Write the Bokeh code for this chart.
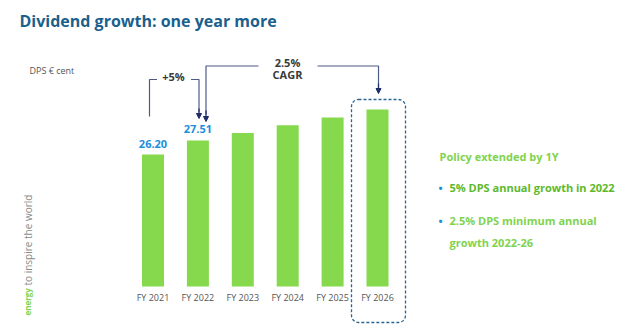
import math
from bokeh.plotting import figure
from bokeh.models import Range1d, Label, Arrow, NormalHead, BoxAnnotation, ColumnDataSource
from bokeh.core.properties import value
from bokeh.embed import file_html
from bokeh.resources import INLINE

# ---- data ----
categories = ["FY 2021", "FY 2022", "FY 2023", "FY 2024", "FY 2025", "FY 2026"]
dps = [26.20, 27.51, 28.20, 28.90, 29.62, 30.37]
value_labels = ["26.20", "27.51", "", "", "", ""]
axis_base = 13.98

# ---- layout helpers (canvas pixel -> data) ----
W, H = 640, 325
SLOT_PX = 44.9
FIRST_PX = 152.5
CENT_PX = 10.8
BASE_PY = 286
x_start = -FIRST_PX / SLOT_PX
x_end = x_start + W / SLOT_PX
y_start = axis_base - (H - BASE_PY) / CENT_PX
y_end = y_start + H / CENT_PX


def X(px):
    return x_start + px / SLOT_PX


def Y(py):
    return y_start + (H - py) / CENT_PX


FONT = "Open Sans"

p = figure(width=W, height=H, x_range=Range1d(x_start, x_end), y_range=Range1d(y_start, y_end),
           output_backend="svg", toolbar_location=None, min_border=0,
           x_axis_type=None, y_axis_type=None)
p.grid.visible = False
p.outline_line_color = None
p.background_fill_color = "white"
p.border_fill_color = "white"

idx = list(range(len(categories)))
src = ColumnDataSource(dict(x=idx, top=dps, cat=categories, lab=value_labels,
                            laby=[v + 11 / CENT_PX for v in dps]))

p.vbar(x="x", top="top", bottom=axis_base, width=22 / SLOT_PX, source=src,
       fill_color="#86d84c", line_color=None)

p.text(x="x", y="laby", text="lab", source=src, text_align="center", text_baseline="middle",
       text_font=value(FONT), text_font_size="11px", text_font_style="bold", text_color="#1c8fdb")

p.text(x="x", y=Y(296.5), text="cat", source=src, text_align="center", text_baseline="middle",
       text_font=value(FONT), text_font_size="9px", text_color="#555555")

# ---- brackets ----
LINE = "#4d5a86"
HEAD = "#1f2d6b"
p.multi_line(xs=[[X(149), X(149), X(156.5)], [X(190.5), X(198.5), X(198.5)],
                 [X(258), X(205.5), X(205.5)], [X(317), X(378), X(378)]],
             ys=[[Y(116), Y(79), Y(79)], [Y(79), Y(79), Y(112)],
                 [Y(65.5), Y(65.5), Y(114)], [Y(65.5), Y(65.5), Y(87)]],
             line_color=LINE, line_width=1.2)
for ax, ay0, ay1 in [(198.5, 108, 118), (205.5, 110, 121), (378, 83, 93)]:
    p.add_layout(Arrow(end=NormalHead(size=5, fill_color=HEAD, line_color=HEAD),
                       x_start=X(ax), y_start=Y(ay0), x_end=X(ax), y_end=Y(ay1),
                       line_color=HEAD, line_width=1.2))

box = BoxAnnotation(left=X(351), right=X(405), top=Y(99), bottom=Y(322),
                    fill_alpha=0, line_color="#2a6592", line_alpha=1.0,
                    line_dash="3 2", line_width=1.3, border_radius=7)
p.add_layout(box)


def lab(px, py, text, size, color, bold=False, align="left", angle=0.0):
    p.add_layout(Label(x=X(px), y=Y(py), text=text, text_font=FONT, text_font_size=size,
                       text_color=color, text_font_style="bold" if bold else "normal",
                       text_align=align, text_baseline="middle", angle=angle))


lab(19, 20, "Dividend growth: one year more", "16px", "#1b5f8c", bold=True)
lab(29, 70, "DPS € cent", "9px", "#555555")
lab(173, 76, "+5%", "11px", "#3a3a3a", bold=True, align="center")
lab(287, 61.5, "2.5%", "11px", "#3a3a3a", bold=True, align="center")
lab(287, 73.5, "CAGR", "11px", "#3a3a3a", bold=True, align="center")

lab(439, 155.5, "Policy extended by 1Y", "11px", "#7fd34f", bold=True)
lab(438, 186.5, "•", "11px", "#1c8fdb", bold=True)
lab(449, 186.5, "5% DPS annual growth in 2022", "11px", "#5cb92c", bold=True)
lab(438, 219.5, "•", "11px", "#1c8fdb", bold=True)
lab(449, 219.5, "2.5% DPS minimum annual", "11px", "#7fd34f", bold=True)
lab(449, 241.5, "growth 2022-26", "11px", "#7fd34f", bold=True)

# vertical tagline
lab(27, 315, "energy", "8px", "#7fd34f", bold=True, angle=math.pi / 2)
lab(27, 285, "to inspire the world", "10px", "#8a8a8a", angle=math.pi / 2)

open("out.html", "w").write(file_html(p, INLINE))
